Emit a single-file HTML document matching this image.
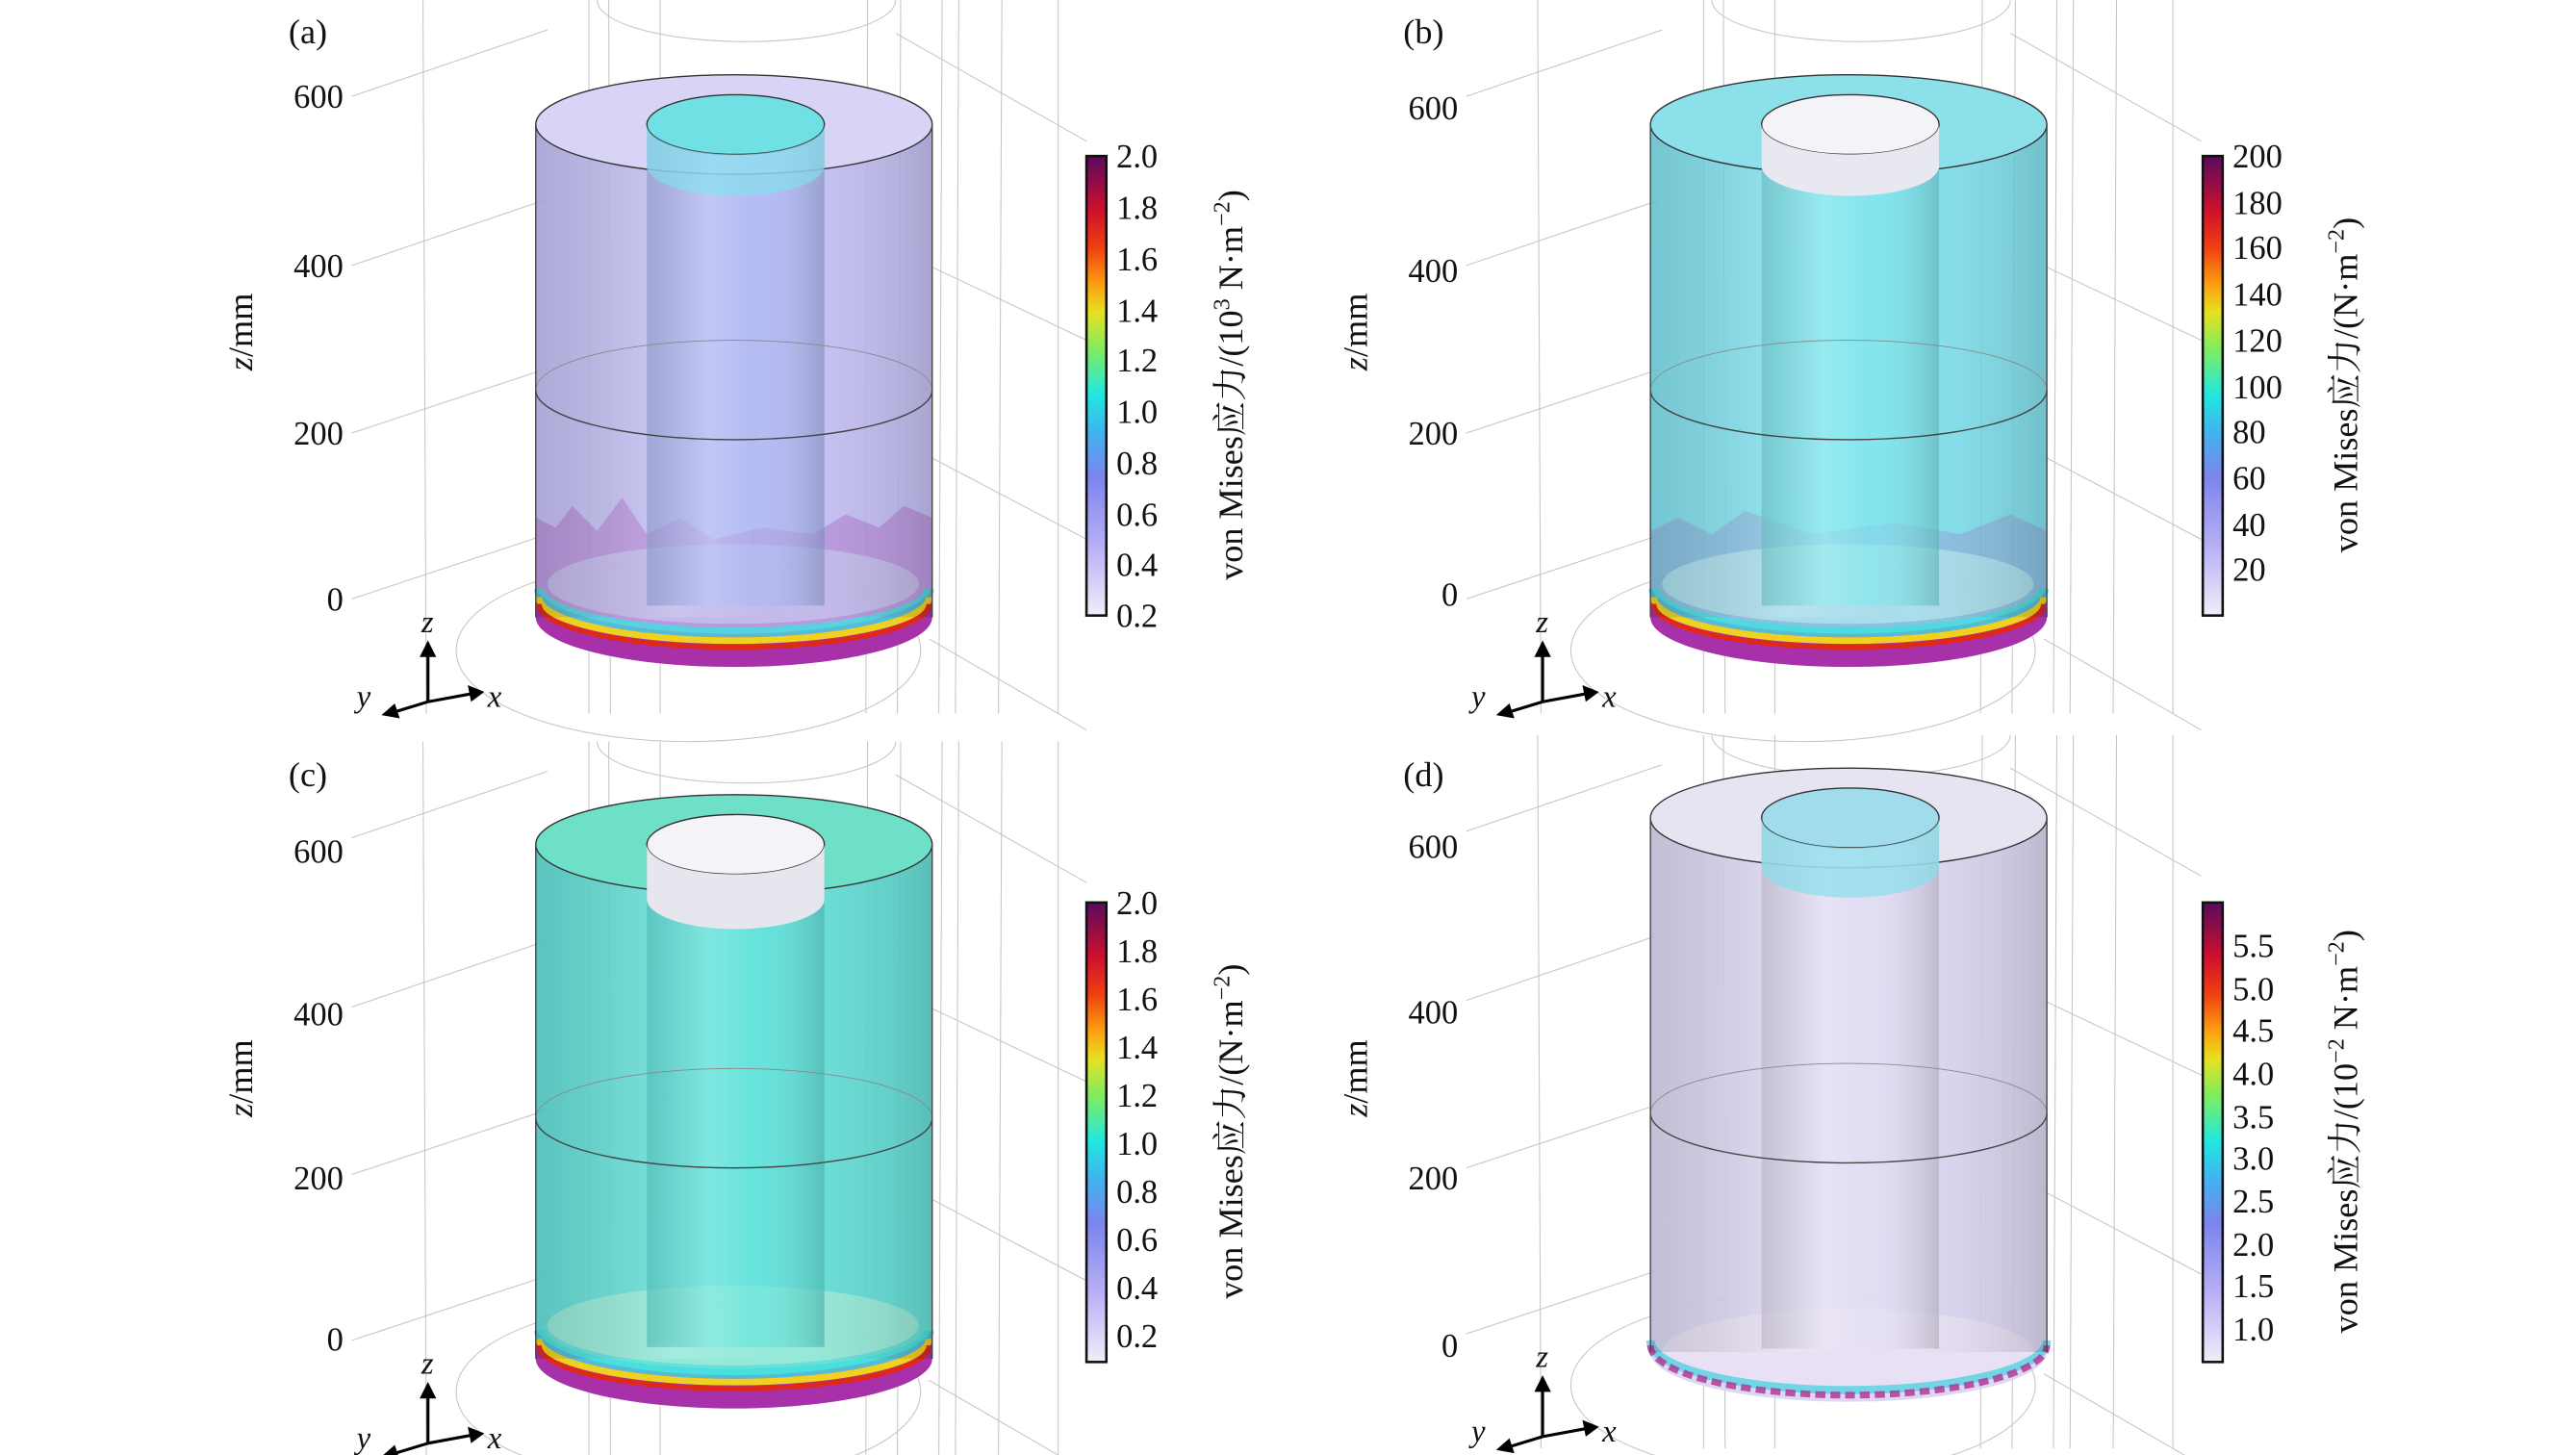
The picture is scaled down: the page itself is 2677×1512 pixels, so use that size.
<!DOCTYPE html>
<html><head><meta charset="utf-8"><style>
html,body{margin:0;padding:0;background:#fff}
svg{display:block}
text{font-family:"Liberation Serif","Noto Serif CJK SC",serif;fill:#111}
</style></head><body>
<svg width="2677" height="1512" viewBox="0 0 1553 877" xmlns="http://www.w3.org/2000/svg">
<defs>
<linearGradient id="cb" x1="0" y1="1" x2="0" y2="0">
<stop offset="0" stop-color="#eeeefa"/><stop offset="0.15" stop-color="#b8b0f4"/>
<stop offset="0.3" stop-color="#7c84ee"/><stop offset="0.4" stop-color="#40b4f0"/>
<stop offset="0.48" stop-color="#20e8e0"/><stop offset="0.58" stop-color="#80ec60"/>
<stop offset="0.66" stop-color="#e8e020"/><stop offset="0.72" stop-color="#fca010"/>
<stop offset="0.8" stop-color="#f04010"/><stop offset="0.88" stop-color="#d0102c"/>
<stop offset="1" stop-color="#5a0a5e"/></linearGradient>
<linearGradient id="sh" x1="0" x2="1">
<stop offset="0" stop-color="#000" stop-opacity="0.12"/><stop offset="0.35" stop-color="#fff" stop-opacity="0.15"/>
<stop offset="0.6" stop-color="#fff" stop-opacity="0"/><stop offset="1" stop-color="#000" stop-opacity="0.15"/></linearGradient>
<g id="grid" stroke="#c4c4c4" stroke-width="0.6" fill="none">
<line x1="255" y1="0" x2="257" y2="430"/><line x1="355" y1="0" x2="355" y2="430"/>
<line x1="367" y1="0" x2="368" y2="430"/><line x1="398" y1="0" x2="398" y2="430"/>
<line x1="523" y1="0" x2="522" y2="430"/><line x1="543" y1="0" x2="541" y2="430"/>
<line x1="568" y1="0" x2="566" y2="430"/><line x1="578" y1="0" x2="576" y2="430"/>
<line x1="604" y1="0" x2="602" y2="430"/><line x1="638" y1="0" x2="638" y2="430"/>
<line x1="212" y1="58" x2="330" y2="18"/><line x1="212" y1="160" x2="330" y2="120"/>
<line x1="212" y1="261" x2="330" y2="222"/><line x1="212" y1="361" x2="330" y2="322"/>
<line x1="540" y1="20" x2="655" y2="85"/><line x1="560" y1="160" x2="655" y2="205"/>
<line x1="560" y1="275" x2="655" y2="325"/><line x1="560" y1="385" x2="655" y2="440"/>
<ellipse cx="415" cy="392" rx="140" ry="55"/><path d="M360 0 A90 25 0 0 0 540 0"/>
</g>
<g id="axes">
<line x1="258" y1="423" x2="258" y2="393" stroke="#000" stroke-width="1.8"/>
<path d="M253 396 L258 386 L263 396Z"/>
<line x1="258" y1="423" x2="235" y2="430" stroke="#000" stroke-width="1.8"/>
<path d="M238 424 L230 431 L241 433Z"/>
<line x1="258" y1="423" x2="285" y2="418" stroke="#000" stroke-width="1.8"/>
<path d="M282 413 L292 417 L284 423Z"/>
<text x="254" y="381" font-size="19" font-style="italic">z</text>
<text x="215" y="426" font-size="19" font-style="italic">y</text>
<text x="294" y="426" font-size="19" font-style="italic">x</text>
</g>
<g id="hot">
<path d="M323 372 A119.5 30 0 0 0 562 372 L562 352 A119.5 30 0 0 1 323 352Z" fill="#a830a8"/>
<path d="M325 355 A117 26 0 0 0 560 355" fill="none" stroke="#40e0e0" stroke-width="6" opacity="0.8"/>
<path d="M325 360 A117 26 0 0 0 560 360" fill="none" stroke="#f0d020" stroke-width="4"/>
<path d="M325 364 A117 26 0 0 0 560 364" fill="none" stroke="#e02818" stroke-width="3"/>
</g>
</defs>

<g>
<use href="#grid"/>
<path d="M323 75 L323 372 A119.5 30 0 0 0 562 372 L562 75 Z" fill="#bcb6f2" opacity="0.85"/>
<path d="M323 312 L335 318 L345 305 L360 320 L375 300 L390 322 L410 312 L430 325 L460 318 L490 322 L510 310 L530 318 L545 305 L562 312 L562 372 A119.5 30 0 0 1 323 372Z" fill="#a040b0" opacity="0.3"/>
<ellipse cx="442" cy="352" rx="112" ry="24" fill="#c8c8f0" opacity="0.7"/>
<use href="#hot"/>
<rect x="323" y="75" width="239" height="297" fill="url(#sh)"/>
<ellipse cx="442.5" cy="75" rx="119.5" ry="30" fill="#d8d4f6" stroke="#333" stroke-width="0.8"/>
<rect x="390" y="75" width="107" height="290" fill="#a8b8f4" opacity="0.6"/>
<rect x="390" y="75" width="107" height="290" fill="url(#sh)"/>
<ellipse cx="443.5" cy="75" rx="53.5" ry="18" fill="#70e0e4" stroke="#333" stroke-width="0.8"/>
<path d="M390 75 A53.5 18 0 0 0 497 75 L497 100 A53.5 18 0 0 1 390 100Z" fill="#7ee4ec" opacity="0.6"/>
<path d="M323 235 A119.5 30 0 0 0 562 235" fill="none" stroke="#444" stroke-width="0.8"/>
<path d="M323 235 A119.5 30 0 0 1 562 235" fill="none" stroke="#888" stroke-width="0.5"/>
<line x1="323" y1="75" x2="323" y2="372" stroke="#444" stroke-width="0.8"/>
<line x1="562" y1="75" x2="562" y2="372" stroke="#444" stroke-width="0.8"/>
<use href="#axes"/>
</g>

<g transform="translate(672,0)">
<use href="#grid"/>
<path d="M323 75 L323 372 A119.5 30 0 0 0 562 372 L562 75 Z" fill="#70dceb" opacity="0.85"/>
<path d="M323 320 L340 312 L360 322 L380 308 L420 322 L470 315 L510 322 L540 310 L562 320 L562 372 A119.5 30 0 0 1 323 372Z" fill="#a040b0" opacity="0.2"/>
<ellipse cx="442" cy="352" rx="112" ry="24" fill="#b8e8f0" opacity="0.7"/>
<use href="#hot"/>
<rect x="323" y="75" width="239" height="297" fill="url(#sh)"/>
<ellipse cx="442.5" cy="75" rx="119.5" ry="30" fill="#8ce0ea" stroke="#333" stroke-width="0.8"/>
<rect x="390" y="75" width="107" height="290" fill="#7ee8ec" opacity="0.6"/>
<rect x="390" y="75" width="107" height="290" fill="url(#sh)"/>
<ellipse cx="443.5" cy="75" rx="53.5" ry="18" fill="#f4f4f8" stroke="#333" stroke-width="0.8"/>
<path d="M390 75 A53.5 18 0 0 0 497 75 L497 100 A53.5 18 0 0 1 390 100Z" fill="#e8e8f0"/>
<path d="M323 235 A119.5 30 0 0 0 562 235" fill="none" stroke="#444" stroke-width="0.8"/>
<path d="M323 235 A119.5 30 0 0 1 562 235" fill="none" stroke="#888" stroke-width="0.5"/>
<line x1="323" y1="75" x2="323" y2="372" stroke="#444" stroke-width="0.8"/>
<line x1="562" y1="75" x2="562" y2="372" stroke="#444" stroke-width="0.8"/>
<use href="#axes"/>
</g>

<g transform="translate(0,447)">
<use href="#grid"/>
<path d="M323 62 L323 372 A119.5 30 0 0 0 562 372 L562 62 Z" fill="#58dcd4" opacity="0.9"/>
<ellipse cx="442" cy="352" rx="112" ry="24" fill="#a8ecd8" opacity="0.7"/>
<use href="#hot"/>
<rect x="323" y="62" width="239" height="310" fill="url(#sh)"/>
<ellipse cx="442.5" cy="62" rx="119.5" ry="30" fill="#6ee0c8" stroke="#333" stroke-width="0.8"/>
<rect x="390" y="62" width="107" height="303" fill="#60e4dc" opacity="0.6"/>
<rect x="390" y="62" width="107" height="303" fill="url(#sh)"/>
<ellipse cx="443.5" cy="62" rx="53.5" ry="18" fill="#f4f4f8" stroke="#333" stroke-width="0.8"/>
<path d="M390 62 A53.5 18 0 0 0 497 62 L497 95 A53.5 18 0 0 1 390 95Z" fill="#e6e6ee"/>
<path d="M323 227 A119.5 30 0 0 0 562 227" fill="none" stroke="#444" stroke-width="0.8"/>
<path d="M323 227 A119.5 30 0 0 1 562 227" fill="none" stroke="#888" stroke-width="0.5"/>
<line x1="323" y1="62" x2="323" y2="372" stroke="#444" stroke-width="0.8"/>
<line x1="562" y1="62" x2="562" y2="372" stroke="#444" stroke-width="0.8"/>
<use href="#axes"/>
</g>

<g transform="translate(672,443)">
<use href="#grid"/>
<path d="M323 50 L323 372 A119.5 30 0 0 0 562 372 L562 50 Z" fill="#d8d4f2" opacity="0.9"/>
<ellipse cx="442" cy="372" rx="112" ry="26" fill="#e8e0f4"/>
<path d="M323 365 A119.5 30 0 0 0 562 365" fill="none" stroke="#40d0e0" stroke-width="5" opacity="0.7"/>
<path d="M323 368 A119.5 30 0 0 0 562 368" fill="none" stroke="#b03090" stroke-width="4" stroke-dasharray="6 3" opacity="0.8"/>
<rect x="323" y="50" width="239" height="322" fill="url(#sh)"/>
<ellipse cx="442.5" cy="50" rx="119.5" ry="30" fill="#e6e4f0" stroke="#333" stroke-width="0.8"/>
<rect x="390" y="50" width="107" height="320" fill="#e4e0f4" opacity="0.6"/>
<rect x="390" y="50" width="107" height="320" fill="url(#sh)"/>
<ellipse cx="443.5" cy="50" rx="53.5" ry="18" fill="#a0dcec" stroke="#333" stroke-width="0.8"/>
<path d="M390 50 A53.5 18 0 0 0 497 50 L497 80 A53.5 18 0 0 1 390 80Z" fill="#88e0ec" opacity="0.7"/>
<path d="M323 228 A119.5 30 0 0 0 562 228" fill="none" stroke="#444" stroke-width="0.8"/>
<path d="M323 228 A119.5 30 0 0 1 562 228" fill="none" stroke="#888" stroke-width="0.5"/>
<line x1="323" y1="50" x2="323" y2="372" stroke="#444" stroke-width="0.8"/>
<line x1="562" y1="50" x2="562" y2="372" stroke="#444" stroke-width="0.8"/>
<use href="#axes"/>
</g>

<g font-size="20" text-anchor="end">
<text x="207" y="65">600</text><text x="207" y="167">400</text><text x="207" y="268">200</text><text x="207" y="368">0</text>
<text x="879" y="72">600</text><text x="879" y="170">400</text><text x="879" y="268">200</text><text x="879" y="365">0</text>
<text x="207" y="520">600</text><text x="207" y="618">400</text><text x="207" y="717">200</text><text x="207" y="814">0</text>
<text x="879" y="517">600</text><text x="879" y="617">400</text><text x="879" y="717">200</text><text x="879" y="818">0</text>
</g>
<g font-size="21">
<text x="174" y="26">(a)</text><text x="846" y="26">(b)</text>
<text x="174" y="474">(c)</text><text x="846" y="474">(d)</text>
<text transform="translate(152,200) rotate(-90)" text-anchor="middle"><tspan font-style="italic">z</tspan>/mm</text>
<text transform="translate(824,200) rotate(-90)" text-anchor="middle"><tspan font-style="italic">z</tspan>/mm</text>
<text transform="translate(152,650) rotate(-90)" text-anchor="middle"><tspan font-style="italic">z</tspan>/mm</text>
<text transform="translate(824,650) rotate(-90)" text-anchor="middle"><tspan font-style="italic">z</tspan>/mm</text>
</g>

<g stroke="#111" stroke-width="1.5">
<rect x="655" y="94" width="12" height="277" fill="url(#cb)"/>
<rect x="1328" y="94" width="12" height="277" fill="url(#cb)"/>
<rect x="655" y="544" width="12" height="277" fill="url(#cb)"/>
<rect x="1328" y="544" width="12" height="277" fill="url(#cb)"/>
</g>
<g font-size="20">
<text x="673" y="101">2.0</text><text x="673" y="132">1.8</text><text x="673" y="163">1.6</text><text x="673" y="194">1.4</text><text x="673" y="224">1.2</text><text x="673" y="255">1.0</text><text x="673" y="286">0.8</text><text x="673" y="317">0.6</text><text x="673" y="347">0.4</text><text x="673" y="378">0.2</text>
<text x="1346" y="101">200</text><text x="1346" y="129">180</text><text x="1346" y="156">160</text><text x="1346" y="184">140</text><text x="1346" y="212">120</text><text x="1346" y="240">100</text><text x="1346" y="267">80</text><text x="1346" y="295">60</text><text x="1346" y="323">40</text><text x="1346" y="350">20</text>
<text x="673" y="551">2.0</text><text x="673" y="580">1.8</text><text x="673" y="609">1.6</text><text x="673" y="638">1.4</text><text x="673" y="667">1.2</text><text x="673" y="696">1.0</text><text x="673" y="725">0.8</text><text x="673" y="754">0.6</text><text x="673" y="783">0.4</text><text x="673" y="812">0.2</text>
<text x="1346" y="577">5.5</text><text x="1346" y="603">5.0</text><text x="1346" y="628">4.5</text><text x="1346" y="654">4.0</text><text x="1346" y="680">3.5</text><text x="1346" y="705">3.0</text><text x="1346" y="731">2.5</text><text x="1346" y="757">2.0</text><text x="1346" y="782">1.5</text><text x="1346" y="808">1.0</text>
</g>
<g font-size="21" text-anchor="middle">
<text transform="translate(749,232) rotate(-90)">von Mises应力/(10<tspan dy="-8" font-size="14">3</tspan><tspan dy="8"> N·m</tspan><tspan dy="-8" font-size="14">−2</tspan><tspan dy="8">)</tspan></text>
<text transform="translate(1421,232) rotate(-90)">von Mises应力/(N·m<tspan dy="-8" font-size="14">−2</tspan><tspan dy="8">)</tspan></text>
<text transform="translate(749,682) rotate(-90)">von Mises应力/(N·m<tspan dy="-8" font-size="14">−2</tspan><tspan dy="8">)</tspan></text>
<text transform="translate(1421,682) rotate(-90)">von Mises应力/(10<tspan dy="-8" font-size="14">−2</tspan><tspan dy="8"> N·m</tspan><tspan dy="-8" font-size="14">−2</tspan><tspan dy="8">)</tspan></text>
</g>
</svg>
</body></html>
